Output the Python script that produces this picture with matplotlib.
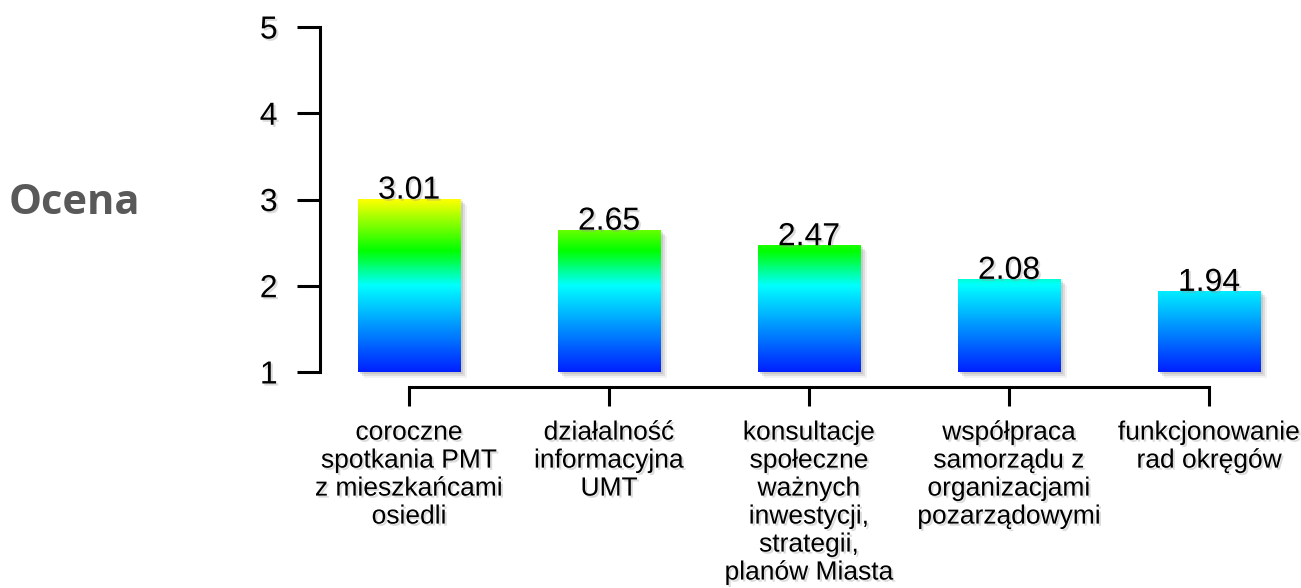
import matplotlib
matplotlib.use("Agg")
import matplotlib.pyplot as plt
import numpy as np
from matplotlib.colors import LinearSegmentedColormap
import matplotlib.patheffects as pe

categories = [
    "coroczne\nspotkania PMT\nz mieszkańcami\nosiedli",
    "działalność\ninformacyjna\nUMT",
    "konsultacje\nspołeczne\nważnych\ninwestycji,\nstrategii,\nplanów Miasta",
    "współpraca\nsamorządu z\norganizacjami\npozarządowymi",
    "funkcjonowanie\nrad okręgów",
]
values = [3.01, 2.65, 2.47, 2.08, 1.94]
value_labels = ["3.01", "2.65", "2.47", "2.08", "1.94"]
yticks = [1, 2, 3, 4, 5]
ylabel = "Ocena"

plt.rcParams['font.family'] = ['Liberation Sans', 'DejaVu Sans']

fig = plt.figure(figsize=(13.01, 5.88), dpi=100)
ax = fig.add_axes([320/1301, 1-372/588, 970/1301, 345/588])

# gradient colormap on absolute value scale 1..3
stops = [(0.0, (0/255, 32/255, 1.0)), (0.5, (0.0, 1.0, 1.0)), (0.7, (0.0, 1.0, 0.0)), (1.0, (1.0, 1.0, 0.0))]
cmap = LinearSegmentedColormap.from_list("grad", stops)

x = np.arange(len(values))
width = 0.515
shadow = [pe.SimplePatchShadow(offset=(1.5, -1.5), shadow_rgbFace='#888888', alpha=0.25),
          pe.SimplePatchShadow(offset=(3, -3), shadow_rgbFace='#888888', alpha=0.2),
          pe.SimplePatchShadow(offset=(4.5, -4.5), shadow_rgbFace='#999999', alpha=0.12),
          pe.Normal()]
bars = ax.bar(x, np.array(values) - 1, width=width, bottom=1, color='white', zorder=2, clip_on=False)
grad = np.linspace(1, 5, 500).reshape(-1, 1)
for b, v in zip(bars, values):
    b.set_path_effects(shadow)
    b.set_edgecolor('none')
    im = ax.imshow(grad, cmap=cmap, vmin=1, vmax=3, origin='lower', aspect='auto',
                   extent=(b.get_x(), b.get_x() + b.get_width(), 1, 5), zorder=3)
    im.set_clip_path(b)

txt_shadow = [pe.SimplePatchShadow(offset=(1.5, -1.5), shadow_rgbFace='#999999', alpha=0.35), pe.Normal()]
for xi, v, lab in zip(x, values, value_labels):
    t = ax.text(xi, v, lab, ha='center', va='baseline', fontsize=23, color='black', zorder=4)
    t.set_path_effects(txt_shadow)

ax.set_xlim(-0.445, -0.445 + 970/200)
ax.set_ylim(1, 5)
ax.set_yticks(yticks)
ax.set_xticks(x)

for s in ['top', 'right']:
    ax.spines[s].set_visible(False)
ax.spines['left'].set_linewidth(2.2)
ax.spines['bottom'].set_linewidth(2.2)
ax.spines['left'].set_bounds(1, 5)
ax.spines['bottom'].set_bounds(0, 4)
ax.spines['bottom'].set_position(('outward', 11))
ax.tick_params(axis='y', length=16.5, width=2.2, pad=14, labelsize=23)
ax.tick_params(axis='x', length=14, width=2.2, pad=10, labelsize=19)
ax.set_xticklabels(categories)
ax.set_yticklabels([str(t) for t in yticks])
for t in ax.get_xticklabels():
    t.set_linespacing(1.21)
    t.set_fontsize(19)
    t.set_va('top')
for t in ax.get_yticklabels():
    t.set_fontsize(23)
for t in ax.get_yticklabels() + ax.get_xticklabels():
    t.set_path_effects(txt_shadow)
ax.patch.set_visible(False)

fig.text(74/1301, 1-203/588, ylabel, fontsize=30, fontweight='bold', color='#595959',
         family=['Open Sans', 'DejaVu Sans'], ha='center', va='center')

fig.savefig("out.png", dpi=100, facecolor='white')
